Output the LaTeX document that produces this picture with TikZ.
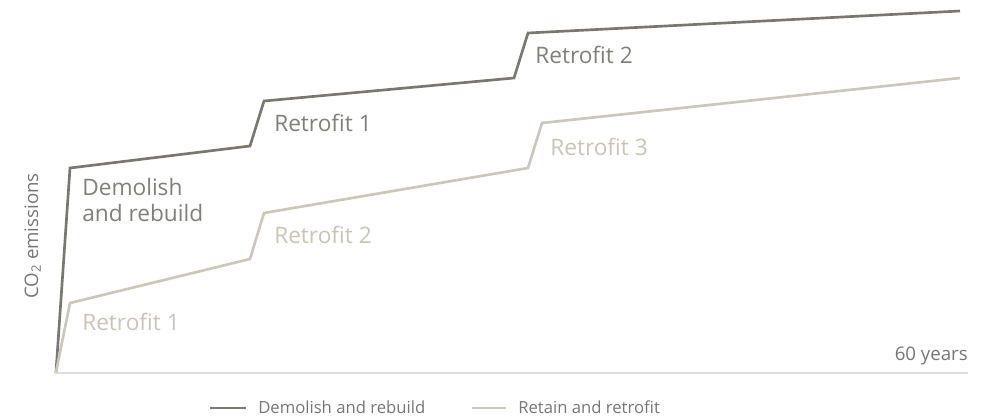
\documentclass[tikz,border=0pt]{standalone}
\usepackage{fontspec}
\setmainfont{Open Sans}
\definecolor{demogray}{RGB}{121, 119, 111}
\definecolor{retaingray}{RGB}{203, 200, 187}
\definecolor{demotext}{RGB}{128, 127, 121}
\definecolor{retaintext}{RGB}{200, 196, 184}
\definecolor{axisgray}{RGB}{222, 222, 222}
\definecolor{labelgray}{RGB}{118, 118, 118}
\usetikzlibrary{positioning}

\begin{document}
\begin{tikzpicture}[x=0.75pt, y=-0.75pt,
  demoline/.style={draw=demogray, line width=2pt},
  retainline/.style={draw=retaingray, line width=2pt},
  steplabel/.style={anchor=base west, inner sep=0pt, align=left, font=\fontsize{17}{19}\selectfont},
  legendtext/.style={anchor=base west, inner sep=0pt, font=\fontsize{12.5}{15}\selectfont, labelgray}
]
  \useasboundingbox (0,0) rectangle (987,417);
  % axis
  \coordinate (origin) at (54,373);
  \coordinate (axisend) at (968,373);
  \draw[axisgray, line width=1.2pt] (origin) -- (axisend);
  \node[font=\fontsize{14}{16}\selectfont, labelgray, anchor=base east, inner sep=0pt] (years) at (968,360) {60 years};
  \node[font=\fontsize{14}{16}\selectfont, labelgray, rotate=90, anchor=base, inner sep=0pt] (ylabel) at (38,236) {CO\textsubscript{2} emissions};
  % demolish and rebuild
  \draw[demoline] (56,372) -- (70,168) -- (250,146) -- (264,101) -- (514,78) -- (528,33) -- (960,11);
  \node[steplabel, demotext] (demolish) at (82,221) {Demolish\\and rebuild};
  \node[steplabel, demotext] (demoretro1) at (274,132) {Retrofit 1};
  \node[steplabel, demotext] (demoretro2) at (535,64) {Retrofit 2};
  % retain and retrofit
  \draw[retainline] (56,372) -- (70,303) -- (250,259) -- (264,213) -- (528,168) -- (542,123) -- (960,78);
  \node[steplabel, retaintext] (retretro1) at (82,330) {Retrofit 1};
  \node[steplabel, retaintext] (retretro2) at (274,243) {Retrofit 2};
  \node[steplabel, retaintext] (retretro3) at (550,156) {Retrofit 3};
  % legend
  \node[legendtext] (legdemo) at (258,413) {Demolish and rebuild};
  \node[legendtext] (legretain) at (518,413) {Retain and retrofit};
  \coordinate (legdemostart) at (210,408);
  \coordinate (legretainstart) at (472,408);
  \draw[demoline] (legdemostart) -- ++(36,0);
  \draw[retainline] (legretainstart) -- ++(34,0);
\end{tikzpicture}
\end{document}
